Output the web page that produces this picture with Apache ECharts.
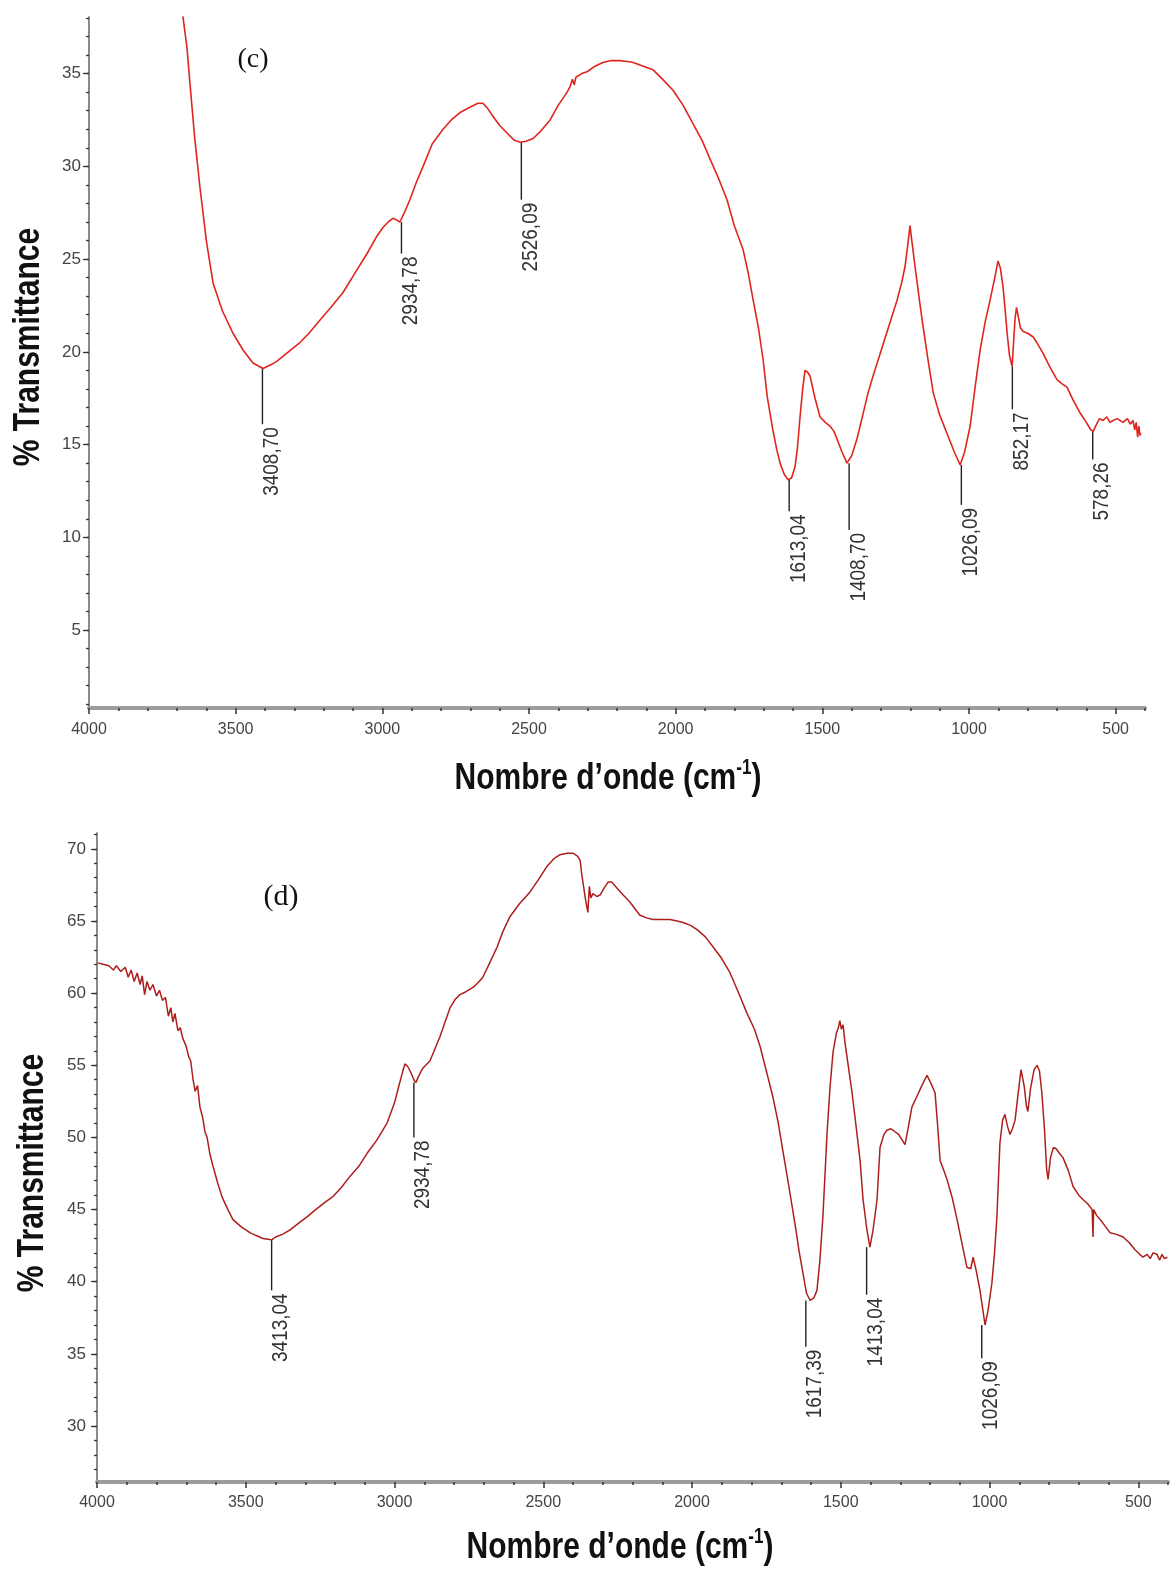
<!DOCTYPE html>
<html>
<head>
<meta charset="utf-8">
<script src="https://cdn.jsdelivr.net/npm/echarts@6/dist/echarts.min.js"></script>
<style>
  html, body { margin: 0; padding: 0; background: #fff; }
  #main { width: 1174px; height: 1570px; }
</style>
</head>
<body>
<div id="main"></div>
<script type="text/javascript">
// ---- spectre (c) : nombre d'onde / % transmittance
var wnC = [3680, 3666, 3656, 3640, 3622, 3600, 3577, 3545, 3509, 3475, 3441, 3407, 3380, 3359, 3320, 3281, 3250, 3213, 3175, 3134,
  3095, 3052, 3020, 2998, 2980, 2964, 2950, 2940, 2925, 2906, 2885, 2861, 2830, 2793, 2765, 2735, 2700, 2674, 2657, 2640,
  2623, 2600, 2575, 2550, 2530, 2510, 2486, 2460, 2428, 2400, 2370, 2360, 2352, 2346, 2340, 2320, 2302, 2275, 2248, 2220,
  2190, 2165, 2145, 2110, 2077, 2045, 2009, 1975, 1941, 1910, 1883, 1855, 1825, 1800, 1770, 1752, 1736, 1718, 1702, 1688,
  1670, 1655, 1644, 1630, 1617, 1605, 1593, 1585, 1576, 1567, 1559, 1550, 1542, 1525, 1508, 1490, 1474, 1460, 1450, 1433,
  1416, 1400, 1382, 1365, 1344, 1325, 1303, 1275, 1245, 1230, 1218, 1210, 1201, 1195, 1184, 1170, 1156, 1140, 1122, 1100,
  1075, 1050, 1030, 1015, 996, 980, 962, 945, 928, 912, 901, 893, 884, 877, 870, 862, 853, 848, 843, 838,
  832, 825, 815, 800, 781, 765, 747, 725, 700, 685, 666, 645, 621, 600, 585, 577, 565, 555, 543, 530,
  520, 509, 495, 475, 460, 450, 441, 435, 430, 425, 421, 417, 414];
var tC = [38.1, 36.4, 34.5, 31.6, 28.9, 26.0, 23.7, 22.2, 21.0, 20.1, 19.4, 19.1, 19.3, 19.5, 20.0, 20.5, 21.0, 21.7, 22.4, 23.2,
  24.2, 25.3, 26.2, 26.7, 27.0, 27.2, 27.1, 27.0, 27.5, 28.2, 29.1, 30.0, 31.2, 32.0, 32.5, 32.9, 33.2, 33.4, 33.4, 33.1,
  32.7, 32.2, 31.8, 31.4, 31.3, 31.35, 31.5, 31.9, 32.5, 33.3, 34.0, 34.3, 34.7, 34.4, 34.8, 35.0, 35.1, 35.4, 35.6, 35.7,
  35.7, 35.65, 35.6, 35.4, 35.2, 34.7, 34.1, 33.3, 32.3, 31.4, 30.4, 29.4, 28.2, 26.8, 25.5, 24.2, 22.8, 21.3, 19.6, 17.6,
  15.9, 14.7, 14.0, 13.4, 13.1, 13.2, 13.8, 14.8, 16.5, 18.0, 19.0, 18.9, 18.7, 17.5, 16.5, 16.2, 16.0, 15.7, 15.3, 14.6,
  14.0, 14.4, 15.3, 16.4, 17.8, 18.8, 19.9, 21.3, 22.8, 23.7, 24.6, 25.6, 26.8, 26.0, 24.6, 22.9, 21.3, 19.6, 17.8, 16.6,
  15.6, 14.6, 13.9, 14.6, 16.0, 18.0, 20.1, 21.6, 22.8, 24.0, 24.9, 24.5, 23.5, 22.3, 21.0, 19.8, 19.2, 20.5, 21.8, 22.4,
  21.9, 21.3, 21.1, 21.0, 20.8, 20.4, 19.9, 19.2, 18.5, 18.3, 18.1, 17.4, 16.7, 16.2, 15.8, 15.7, 16.1, 16.4, 16.3, 16.5,
  16.2, 16.3, 16.4, 16.2, 16.4, 16.1, 16.3, 15.8, 16.2, 15.4, 16.0, 15.5, 15.6];

// pics annotés (c) : position, haut du trait (sur la courbe), bas du trait
var peakWnC = [3408.70, 2934.78, 2526.09, 1613.04, 1408.70, 1026.09, 852.17, 578.26];
var peakTopC = [19.1, 27.0, 31.3, 13.1, 14.0, 13.9, 19.2, 15.7];
var peakEndC = [16.1, 25.3, 28.2, 11.4, 10.4, 11.75, 16.9, 14.2];

// ---- spectre (d)
var wnD = [3998, 3980, 3960, 3945, 3935, 3920, 3905, 3895, 3885, 3875, 3865, 3855, 3848, 3840, 3832, 3822, 3812, 3800, 3790, 3780,
  3770, 3760, 3752, 3745, 3738, 3728, 3720, 3712, 3700, 3692, 3685, 3677, 3670, 3662, 3654, 3645, 3637, 3630, 3620, 3610,
  3595, 3580, 3560, 3543, 3515, 3486, 3465, 3442, 3425, 3413, 3400, 3375, 3351, 3320, 3294, 3265, 3234, 3207, 3180, 3150,
  3120, 3092, 3060, 3025, 3000, 2985, 2972, 2965, 2955, 2945, 2935, 2928, 2920, 2905, 2881, 2865, 2847, 2830, 2813, 2795,
  2780, 2760, 2736, 2720, 2703, 2680, 2655, 2635, 2612, 2580, 2545, 2515, 2487, 2465, 2444, 2420, 2400, 2385, 2376, 2371,
  2366, 2358, 2350, 2345, 2340, 2333, 2320, 2309, 2295, 2282, 2270, 2266, 2240, 2208, 2190, 2175, 2150, 2131, 2100, 2074,
  2050, 2030, 2005, 1983, 1955, 1929, 1900, 1872, 1845, 1815, 1790, 1771, 1750, 1728, 1710, 1694, 1680, 1664, 1650, 1640,
  1627, 1615, 1603, 1590, 1580, 1570, 1560, 1546, 1536, 1526, 1515, 1508, 1503, 1498, 1492, 1486, 1475, 1462, 1448, 1435,
  1425, 1412, 1402, 1392, 1378, 1368, 1355, 1345, 1332, 1324, 1305, 1284, 1272, 1261, 1245, 1234, 1220, 1210, 1198, 1183,
  1175, 1166, 1155, 1143, 1125, 1109, 1092, 1076, 1063, 1055, 1045, 1032, 1022, 1015, 1005, 992, 983, 975, 965, 956,
  948, 940, 931, 923, 914, 904, 894, 883, 876, 871, 862, 850, 840, 832, 824, 815, 808, 803, 795, 785,
  775, 765, 753, 735, 719, 700, 686, 670, 655, 652, 650, 640, 620, 595, 575, 551, 530, 510, 495, 484,
  470, 460, 450, 437, 428, 420, 412, 402];
var tD = [62.1, 62.0, 61.9, 61.6, 61.9, 61.5, 61.8, 61.1, 61.6, 60.8, 61.4, 60.6, 61.2, 59.9, 60.8, 60.2, 60.6, 59.8, 60.2, 59.5,
  59.7, 58.4, 59.0, 58.0, 58.6, 57.4, 57.6, 56.9, 56.3, 55.6, 55.3, 54.0, 53.2, 53.6, 52.1, 51.4, 50.4, 50.0, 48.8, 48.0,
  46.9, 45.9, 45.0, 44.3, 43.8, 43.4, 43.2, 43.0, 42.95, 42.9, 43.1, 43.3, 43.6, 44.1, 44.5, 45.0, 45.5, 45.9, 46.5, 47.3,
  48.0, 48.9, 49.8, 51.0, 52.4, 53.6, 54.6, 55.1, 54.9, 54.5, 54.0, 53.8, 54.2, 54.8, 55.3, 56.1, 57.0, 58.0, 59.0, 59.6,
  59.9, 60.1, 60.4, 60.7, 61.1, 62.1, 63.2, 64.3, 65.3, 66.2, 67.0, 67.9, 68.8, 69.3, 69.6, 69.7, 69.7, 69.5, 69.2, 68.3,
  67.6, 66.5, 65.6, 67.4, 66.6, 66.9, 66.7, 66.8, 67.3, 67.7, 67.7, 67.6, 67.0, 66.3, 65.8, 65.4, 65.2, 65.1, 65.1, 65.1,
  65.0, 64.9, 64.7, 64.4, 63.9, 63.2, 62.4, 61.4, 60.1, 58.6, 57.5, 56.3, 54.6, 52.8, 51.0, 49.0, 47.3, 45.3, 43.5, 42.1,
  40.6, 39.2, 38.7, 38.9, 39.4, 41.5, 44.5, 50.3, 53.5, 55.9, 57.2, 57.6, 58.1, 57.5, 57.8, 56.6, 55.0, 53.1, 50.7, 48.4,
  45.7, 43.6, 42.4, 43.5, 45.7, 49.3, 50.2, 50.5, 50.6, 50.5, 50.2, 49.5, 50.8, 52.1, 52.8, 53.3, 53.9, 54.3, 53.8, 53.1,
  51.0, 48.4, 47.8, 47.1, 45.8, 44.3, 42.6, 41.0, 40.9, 41.7, 40.8, 39.4, 38.0, 37.0, 38.0, 39.9, 42.0, 44.5, 49.6, 51.2,
  51.6, 50.8, 50.2, 50.6, 51.2, 53.0, 54.7, 53.5, 52.2, 51.8, 53.4, 54.7, 55.0, 54.6, 53.1, 50.5, 47.8, 47.1, 48.6, 49.3,
  49.2, 48.9, 48.6, 47.7, 46.6, 46.0, 45.7, 45.4, 45.0, 43.1, 45.0, 44.6, 44.1, 43.4, 43.3, 43.1, 42.7, 42.2, 41.9, 41.7,
  41.9, 41.6, 42.0, 41.9, 41.5, 41.9, 41.6, 41.7];

var peakWnD = [3413.04, 2934.78, 1617.39, 1413.04, 1026.09];
var peakTopD = [42.9, 53.8, 38.7, 42.4, 37.0];
var peakEndD = [39.4, 50.0, 35.5, 39.1, 34.7];

// graduations
var xTicks = [4000, 3500, 3000, 2500, 2000, 1500, 1000, 500];
var xMinorTicks = [];
for (var v = 400; v <= 4000; v += 100) xMinorTicks.push(v);
var yTicksC = [5, 10, 15, 20, 25, 30, 35];
var yMinorC = [];
for (var v = 1; v <= 38; v++) yMinorC.push(v);
var yTicksD = [30, 35, 40, 45, 50, 55, 60, 65, 70];
var yMinorD = [];
for (var v = 27; v <= 71; v++) yMinorD.push(v);

function zip(a, b) {
  return a.map(function (x, i) { return [x, b[i]]; });
}
function peaks(w, top, end) {
  return w.map(function (x, i) { return [x, top[i], end[i]]; });
}

var labelFont = "'Liberation Sans Narrow', 'Liberation Sans', Arial, sans-serif";
var titleFont = "bold 30px 'Liberation Sans', Arial, sans-serif";

function plain(v) { return String(v); }

function xMain(grid, margin) {
  return {
    type: 'value', gridIndex: grid, inverse: true, min: 400, max: 4000, position: 'bottom',
    axisLine: { show: true, lineStyle: { color: '#9c9c9c', width: 4 } },
    axisTick: { show: true, length: 6, customValues: xTicks, lineStyle: { color: '#333', width: 1.5 } },
    axisLabel: { show: true, customValues: xTicks, formatter: plain, margin: margin, color: '#444', fontSize: 16, fontFamily: labelFont },
    splitLine: { show: false }
  };
}
function xMinor(grid) {
  return {
    type: 'value', gridIndex: grid, inverse: true, min: 400, max: 4000, position: 'bottom',
    axisLine: { show: false },
    axisTick: { show: true, length: 3, customValues: xMinorTicks, lineStyle: { color: '#333', width: 1.5 } },
    axisLabel: { show: false },
    splitLine: { show: false }
  };
}
function yMain(grid, min, max, ticks, margin) {
  return {
    type: 'value', gridIndex: grid, min: min, max: max, position: 'left',
    axisLine: { show: true, lineStyle: { color: '#8a8a8a', width: 2 } },
    axisTick: { show: true, length: 6, customValues: ticks, lineStyle: { color: '#333', width: 1.3 } },
    axisLabel: { show: true, customValues: ticks, formatter: plain, margin: margin, color: '#444', fontSize: 17, fontFamily: labelFont },
    splitLine: { show: false }
  };
}
function yMinor(grid, min, max, ticks) {
  return {
    type: 'value', gridIndex: grid, min: min, max: max, position: 'left',
    axisLine: { show: false },
    axisTick: { show: true, length: 3, customValues: ticks, lineStyle: { color: '#333', width: 1.3 } },
    axisLabel: { show: false },
    splitLine: { show: false }
  };
}

function renderPeak(params, api) {
  var wn = api.value(0);
  var p0 = api.coord([wn, api.value(1)]);
  var p1 = api.coord([wn, api.value(2)]);
  return {
    type: 'group',
    children: [{
      type: 'line',
      shape: { x1: p0[0], y1: p0[1], x2: p1[0], y2: p1[1] },
      style: { stroke: '#222', lineWidth: 1.4 }
    }, {
      type: 'text',
      x: p1[0] - 1,
      y: p1[1] + 3,
      rotation: Math.PI / 2,
      scaleY: 1.12,
      style: {
        text: wn.toFixed(2).replace('.', ','),
        align: 'right', verticalAlign: 'top',
        fontSize: 19, fontFamily: "'Liberation Sans', Arial, sans-serif",
        fill: '#333'
      }
    }]
  };
}

function xTitle(cx, cy) {
  return {
    type: 'text', x: cx, y: cy, scaleY: 1.25,
    style: {
      text: '{t|Nombre d’onde (cm}{s|-1}{t|)}', align: 'center', verticalAlign: 'middle',
      rich: {
        t: { font: titleFont, fill: '#111', lineHeight: 34 },
        s: { fontSize: 17, fontWeight: 'bold', fontFamily: "'Liberation Sans', Arial, sans-serif", fill: '#111', verticalAlign: 'top', lineHeight: 20 }
      }
    }
  };
}
function yTitle(cx, cy) {
  return {
    type: 'text', x: cx, y: cy, rotation: Math.PI / 2, scaleY: 1.25,
    style: { text: '% Transmittance', font: titleFont, fill: '#111', align: 'center', verticalAlign: 'middle' }
  };
}

var myChart = echarts.init(document.getElementById('main'), null, { renderer: 'canvas' });
var option = {
  backgroundColor: '#fff',
  animation: false,
  grid: [
    { left: 89, top: 17, width: 1056, height: 691 },
    { left: 97, top: 833, width: 1071, height: 649 }
  ],
  xAxis: [xMain(0, 14), xMinor(0), xMain(1, 13), xMinor(1)],
  yAxis: [
    yMain(0, 0.8, 38.05, yTicksC, 8), yMinor(0, 0.8, 38.05, yMinorC),
    yMain(1, 26.12, 71.1, yTicksD, 11), yMinor(1, 26.12, 71.1, yMinorD)
  ],
  series: [{
    name: '(c)', type: 'line', xAxisIndex: 0, yAxisIndex: 0,
    data: zip(wnC, tC), showSymbol: false, clip: true,
    lineStyle: { color: '#e0251f', width: 1.6 }
  }, {
    name: 'pics (c)', type: 'custom', xAxisIndex: 0, yAxisIndex: 0,
    data: peaks(peakWnC, peakTopC, peakEndC), renderItem: renderPeak, clip: false
  }, {
    name: '(d)', type: 'line', xAxisIndex: 2, yAxisIndex: 2,
    data: zip(wnD, tD), showSymbol: false, clip: true,
    lineStyle: { color: '#ad1f1b', width: 1.5 }
  }, {
    name: 'pics (d)', type: 'custom', xAxisIndex: 2, yAxisIndex: 2,
    data: peaks(peakWnD, peakTopD, peakEndD), renderItem: renderPeak, clip: false
  }],
  graphic: [
    yTitle(29, 347),
    yTitle(33, 1173),
    xTitle(608, 779),
    xTitle(620, 1548),
  {
    type: 'text', x: 253, y: 60,
    style: { text: '(c)', font: "28px 'Liberation Serif', 'DejaVu Serif', serif", fill: '#111', align: 'center', verticalAlign: 'middle' }
  }, {
    type: 'text', x: 281, y: 897,
    style: { text: '(d)', font: "30px 'Liberation Serif', 'DejaVu Serif', serif", fill: '#111', align: 'center', verticalAlign: 'middle' }
  }]
};
myChart.setOption(option);
</script>
</body>
</html>
